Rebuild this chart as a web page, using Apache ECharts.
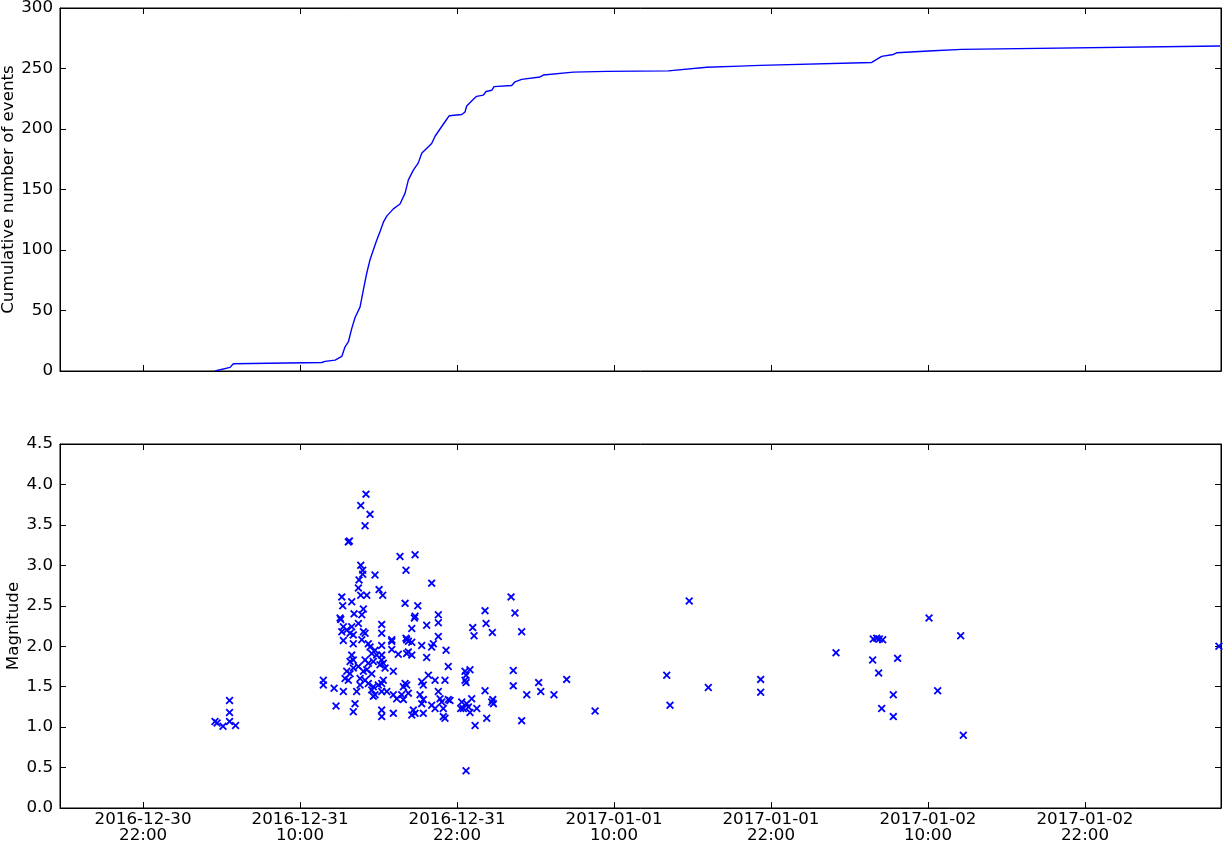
<!DOCTYPE html>
<html>
<head>
<meta charset="utf-8">
<script src="https://cdn.jsdelivr.net/npm/echarts@6/dist/echarts.min.js"></script>
<style>
html,body{margin:0;padding:0;background:#fff;}
#chart{width:1223px;height:843px;}
</style>
</head>
<body>
<div id="chart"></div>
<script>
// Time is in hours since 2016-12-30 22:00
const xTickHours = [0, 12, 24, 36, 48, 60, 72];
const X_MIN = -6.35, X_MAX = 82.4;

// Cumulative number of events (top panel)
const cumTimes = [5.50, 6.65, 6.90, 13.66, 13.91, 14.68, 15.19, 15.44, 15.69, 15.95, 16.20, 16.59, 16.84, 17.10, 17.35, 17.60, 17.86, 18.11, 18.37, 18.63, 19.13, 19.64, 20.03, 20.28, 20.66, 21.04, 21.30, 22.06, 22.32, 22.70, 23.08, 23.41, 24.36, 24.61, 24.74, 25.25, 25.50, 26.01, 26.22, 26.65, 26.83, 28.18, 28.43, 28.94, 30.34, 30.60, 32.89, 35.44, 40.15, 40.28, 43.09, 45.63, 47.16, 47.17, 55.70, 55.82, 56.46, 57.35, 57.61, 60.41, 62.58, 62.70, 82.32];
const cumCounts = [0, 3, 6, 7, 8, 9, 12, 20, 24, 35, 44, 53, 67, 81, 92, 100, 108, 115, 123, 128, 134, 138, 147, 158, 166, 172, 180, 188, 194, 200, 206, 211, 212, 214, 219, 224.5, 227, 228, 231, 232, 235, 236, 239, 241, 243, 244.6, 247, 247.6, 248, 249.3, 251, 252, 252.6, 253.4, 255, 256, 260, 261.6, 263, 264.7, 265.8, 267, 268.6];

// Events (bottom panel)
const evTimes = [5.50,5.66,6.11,6.61,6.61,6.61,7.07,13.78,13.78,14.60,14.75,15.06,15.11,15.19,15.19,15.26,15.31,15.31,15.31,15.44,15.57,15.57,15.69,15.69,15.77,15.82,15.82,15.82,15.95,15.95,15.95,16.07,16.07,16.07,16.07,16.07,16.13,16.20,16.33,16.46,16.46,16.46,16.51,16.59,16.59,16.64,16.64,16.64,16.72,16.72,16.79,16.79,16.84,16.84,16.84,16.97,16.97,16.97,16.97,17.04,17.10,17.10,17.22,17.22,17.22,17.35,17.35,17.48,17.48,17.48,17.60,17.60,17.60,17.73,17.73,17.73,17.86,17.98,18.04,18.11,18.24,18.24,18.24,18.24,18.24,18.24,18.24,18.24,18.24,18.32,18.36,18.36,18.50,18.63,19.01,19.01,19.01,19.13,19.13,19.13,19.39,19.51,19.64,19.77,19.90,19.90,20.03,20.03,20.10,20.10,20.15,20.15,20.15,20.28,20.28,20.28,20.54,20.54,20.54,20.54,20.66,20.74,20.79,20.79,20.79,21.00,21.17,21.30,21.30,21.30,21.42,21.42,21.42,21.68,21.68,21.81,22.06,22.06,22.06,22.19,22.32,22.32,22.57,22.57,22.57,22.57,22.70,22.83,22.95,22.95,23.08,23.08,23.16,23.33,23.33,23.46,24.28,24.36,24.48,24.61,24.61,24.69,24.69,24.69,24.74,24.87,24.99,24.99,25.12,25.20,25.30,25.38,25.51,26.14,26.14,26.22,26.27,26.65,26.70,26.73,26.78,28.13,28.30,28.30,28.43,28.94,28.94,29.33,30.24,30.40,31.41,32.38,34.55,40.03,40.28,41.75,43.21,47.21,47.21,52.97,55.77,55.82,56.08,56.23,56.28,56.46,56.54,57.35,57.35,57.68,60.08,60.74,62.50,62.70,82.24];
const evMags = [1.07,1.05,1.01,1.33,1.18,1.07,1.02,1.58,1.52,1.48,1.26,2.35,2.33,2.61,2.18,2.50,2.24,2.07,1.44,1.60,2.20,1.69,1.58,3.29,3.30,2.16,1.81,1.66,2.55,2.24,1.89,2.14,2.03,1.83,1.73,1.19,2.40,1.29,1.44,2.28,2.72,1.75,2.82,1.60,1.52,3.74,3.00,2.63,2.39,2.08,2.94,2.89,2.46,2.18,1.69,3.49,2.16,1.83,1.58,3.88,2.63,1.71,2.03,1.79,1.54,3.63,1.99,1.91,1.66,1.46,1.81,1.50,1.38,2.88,1.95,1.40,1.89,1.52,2.70,1.77,2.27,2.16,2.01,1.89,1.83,1.54,1.44,1.21,1.13,2.63,1.79,1.58,1.73,1.44,2.08,2.06,1.96,1.69,1.40,1.17,1.35,1.90,3.11,1.40,1.50,1.34,2.53,1.54,2.94,2.10,2.08,1.91,1.52,2.06,1.93,1.42,2.22,2.05,1.89,1.15,1.21,2.35,3.13,2.37,1.17,2.50,1.40,2.01,1.56,1.29,1.52,1.34,1.17,2.26,1.86,1.64,2.78,1.99,1.27,2.03,1.58,1.23,2.39,2.29,2.12,1.44,1.35,1.31,1.23,1.13,1.58,1.11,1.95,1.75,1.34,1.33,1.23,1.31,1.23,1.69,1.58,1.64,1.55,0.46,1.29,1.25,1.71,1.18,1.35,2.23,2.13,1.02,1.23,2.44,1.45,2.28,1.11,1.31,2.17,1.34,1.29,2.61,1.70,1.51,2.41,2.18,1.08,1.40,1.55,1.44,1.40,1.59,1.20,1.64,1.27,2.56,1.49,1.59,1.43,1.92,1.83,2.09,2.10,1.67,2.09,1.23,2.08,1.40,1.13,1.85,2.35,1.45,2.13,0.90,2.00];

const BASE = Date.UTC(2016, 11, 30, 22, 0);
function fmt(v) {
  const d = new Date(BASE + v * 3600000);
  const p = n => String(n).padStart(2, '0');
  return d.getUTCFullYear() + '-' + p(d.getUTCMonth() + 1) + '-' + p(d.getUTCDate()) + '\n' + p(d.getUTCHours()) + ':' + p(d.getUTCMinutes());
}

const FONT = 'DejaVu Sans';
const FS = 16.7;
const BLUE = '#0000ff';

function xAx(gridIndex, position, showLabel) {
  return {
    type: 'value', gridIndex, position, min: X_MIN, max: X_MAX,
    axisLine: { show: true, onZero: false, lineStyle: { color: '#000', width: 1 } },
    axisTick: { show: true, inside: true, length: 6, customValues: xTickHours, lineStyle: { color: '#000' } },
    axisLabel: { show: showLabel, customValues: xTickHours, formatter: fmt, color: '#000', fontFamily: FONT, fontSize: FS, lineHeight: 16, margin: 4 },
    splitLine: { show: false }
  };
}
function yAx(gridIndex, position, min, max, interval, showLabel, name, nameGap, digits) {
  return {
    type: 'value', gridIndex, position, min, max, interval,
    name: showLabel ? name : '', nameLocation: 'middle', nameGap: nameGap, nameRotate: 90,
    nameMoveOverlap: false,
    nameTextStyle: { color: '#000', fontFamily: FONT, fontSize: FS },
    axisLine: { show: true, onZero: false, lineStyle: { color: '#000', width: 1 } },
    axisTick: { show: true, inside: true, length: 6, lineStyle: { color: '#000' } },
    axisLabel: { show: showLabel, color: '#000', fontFamily: FONT, fontSize: FS, margin: 7,
      formatter: v => digits ? v.toFixed(digits) : String(v) },
    splitLine: { show: false }
  };
}

const xSym = 'path://M0,1.6L1.6,0L5,3.4L8.4,0L10,1.6L6.6,5L10,8.4L8.4,10L5,6.6L1.6,10L0,8.4L3.4,5Z';

const chart = echarts.init(document.getElementById('chart'), null, { renderer: 'canvas' });
chart.setOption({
  animation: false,
  backgroundColor: '#fff',
  grid: [
    { left: 60, right: 2, top: 8, height: 363, show: true, borderColor: '#000', borderWidth: 1, containLabel: false, outerBoundsMode: 'none' },
    { left: 60, right: 2, top: 444, height: 364, show: true, borderColor: '#000', borderWidth: 1, containLabel: false, outerBoundsMode: 'none' }
  ],
  xAxis: [xAx(0, 'bottom', false), xAx(0, 'top', false), xAx(1, 'bottom', true), xAx(1, 'top', false)],
  yAxis: [
    yAx(0, 'left', 0, 300, 50, true, 'Cumulative number of events', 43, 0),
    yAx(0, 'right', 0, 300, 50, false, '', 0, 0),
    yAx(1, 'left', 0, 4.5, 0.5, true, 'Magnitude', 38, 1),
    yAx(1, 'right', 0, 4.5, 0.5, false, '', 0, 1)
  ],
  series: [
    {
      type: 'line', xAxisIndex: 0, yAxisIndex: 0, showSymbol: false, symbol: 'none',
      lineStyle: { color: BLUE, width: 1.4 },
      data: cumTimes.map((t, i) => [t, cumCounts[i]])
    },
    {
      type: 'scatter', xAxisIndex: 2, yAxisIndex: 2, symbol: xSym, symbolSize: 8,
      itemStyle: { color: BLUE, opacity: 1 },
      data: evTimes.map((t, i) => [t, evMags[i]])
    }
  ]
});
</script>
</body>
</html>
